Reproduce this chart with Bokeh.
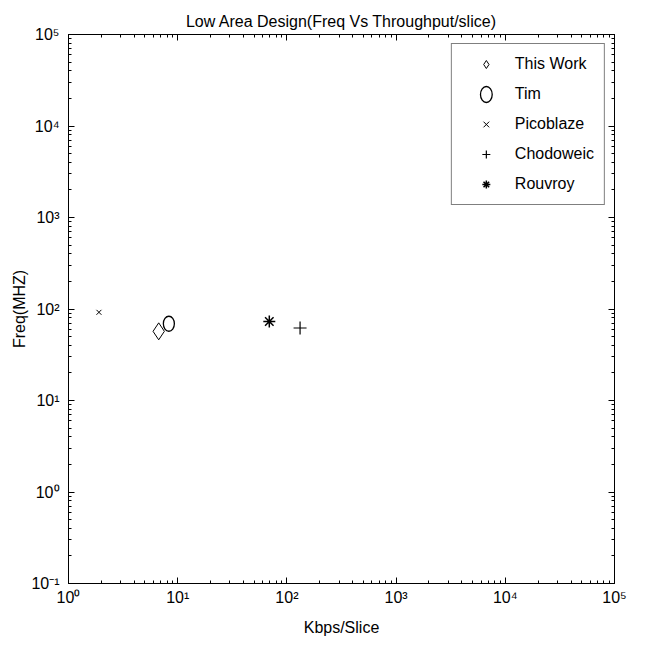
from bokeh.plotting import figure
from bokeh.models import (LogAxis, FixedTicker, Range1d, Legend, LegendItem,
                          CustomJSTickFormatter)
from bokeh.embed import file_html
from bokeh.resources import INLINE

# ---- data ----
series = ["This Work", "Tim", "Picoblaze", "Chodoweic", "Rouvroy"]
kbps_per_slice = [6.7, 8.3, 1.9, 132.0, 69.0]
freq_mhz = [57.0, 69.0, 92.0, 62.0, 73.0]
x_decades = [0, 1, 2, 3, 4, 5]
y_decades = [-1, 0, 1, 2, 3, 4, 5]

FONT = "Liberation Sans"

p = figure(width=636, height=638, x_axis_type="log", y_axis_type="log",
           x_range=Range1d(1, 1e5), y_range=Range1d(0.1, 1e5),
           output_backend="svg", toolbar_location=None,
           title="Low Area Design(Freq Vs Throughput/slice)",
           min_border_left=68, min_border_right=22, min_border_top=34,
           min_border_bottom=54)
p.toolbar.logo = None
p.title.align = "center"
p.title.text_font = FONT
p.title.text_font_style = "normal"
p.title.text_font_size = "16px"
p.title.text_color = "black"
p.title.standoff = 10
p.xgrid.visible = False
p.ygrid.visible = False
p.outline_line_color = "black"
p.outline_line_width = 1
p.background_fill_color = "white"
p.border_fill_color = "white"

xt = [10.0 ** d for d in x_decades]
yt = [10.0 ** d for d in y_decades]
xminor = [m * 10.0 ** d for d in x_decades[:-1] for m in range(2, 10)]
yminor = [m * 10.0 ** d for d in y_decades[:-1] for m in range(2, 10)]

fmt = CustomJSTickFormatter(code="""
const sup = {'0':'\u2070','1':'\u00b9','2':'\u00b2','3':'\u00b3','4':'\u2074',
             '5':'\u2075','6':'\u2076','7':'\u2077','8':'\u2078','9':'\u2079','-':'\u207b'};
const e = Math.round(Math.log10(tick)).toString();
let s = '';
for (const c of e) { s += sup[c]; }
return '10' + s;
""")

def style(ax, ticks, minor, labels=True, standoff=0):
    ax.ticker = FixedTicker(ticks=ticks, minor_ticks=minor)
    ax.major_tick_in = 6
    ax.major_tick_out = 0
    ax.minor_tick_in = 3
    ax.minor_tick_out = 0
    ax.axis_line_color = "black"
    ax.major_tick_line_color = "black"
    ax.minor_tick_line_color = "black"
    ax.major_label_text_font = FONT
    ax.major_label_text_font_size = "16px"
    ax.major_label_text_color = "black"
    ax.axis_label_text_font = FONT
    ax.axis_label_text_font_size = "16px"
    ax.axis_label_text_font_style = "normal"
    ax.axis_label_text_color = "black"
    ax.formatter = fmt
    if not labels:
        ax.major_label_text_font_size = "2px"
        ax.major_label_text_alpha = 0
        ax.major_label_standoff = standoff

style(p.xaxis[0], xt, xminor)
style(p.yaxis[0], yt, yminor)
p.xaxis[0].axis_label = "Kbps/Slice"
p.yaxis[0].axis_label = "Freq(MHZ)"
p.xaxis[0].major_label_standoff = 5
p.yaxis[0].major_label_standoff = 9
p.xaxis[0].axis_label_standoff = 10
p.yaxis[0].axis_label_standoff = 0

top = LogAxis()
right = LogAxis()
style(top, xt, xminor, labels=False, standoff=4)
style(right, yt, yminor, labels=False, standoff=20)
p.add_layout(top, "above")
p.add_layout(right, "right")

items = []
r0 = p.scatter([kbps_per_slice[0]], [freq_mhz[0]], marker="diamond", size=17,
               fill_color="white", line_color="black", line_width=1)
items.append(LegendItem(label=series[0], renderers=[r0]))
r1 = p.ellipse([kbps_per_slice[1]], [freq_mhz[1]], width=11, height=15,
               width_units="screen", height_units="screen",
               fill_color="white", line_color="black", line_width=1.3)
items.append(LegendItem(label=series[1], renderers=[r1]))
r2 = p.scatter([kbps_per_slice[2]], [freq_mhz[2]], marker="x", size=7,
               line_color="black", line_width=1)
items.append(LegendItem(label=series[2], renderers=[r2]))
r3 = p.scatter([kbps_per_slice[3]], [freq_mhz[3]], marker="cross", size=13,
               line_color="black", line_width=1.2)
items.append(LegendItem(label=series[3], renderers=[r3]))
r4 = p.scatter([kbps_per_slice[4]], [freq_mhz[4]], marker="asterisk", size=12,
               line_color="black", line_width=1.5)
items.append(LegendItem(label=series[4], renderers=[r4]))

legend = Legend(items=items, location="top_right")
legend.margin = 9
legend.padding = 10
legend.spacing = 10
legend.label_height = 20
legend.glyph_height = 20
legend.glyph_width = 48
legend.label_standoff = 5
legend.label_text_font = FONT
legend.label_text_font_size = "16px"
legend.label_text_color = "black"
legend.border_line_color = "black"
legend.border_line_width = 1
legend.background_fill_color = "white"
legend.background_fill_alpha = 1
p.add_layout(legend, "center")

open("out.html", "w").write(file_html(p, INLINE))
